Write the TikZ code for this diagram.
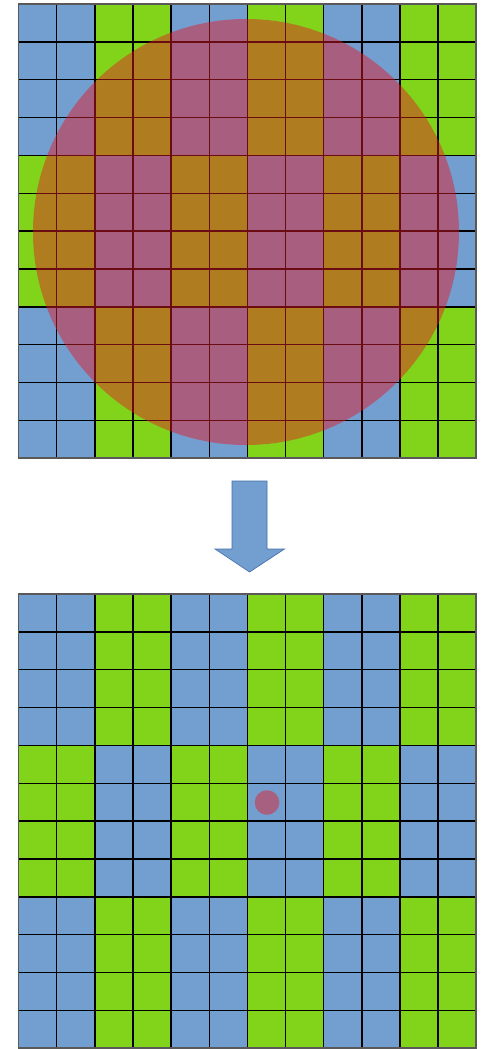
\documentclass[tikz,border=0pt]{standalone}
\usetikzlibrary{shapes.arrows}
\definecolor{cellblue}{RGB}{114,159,207}
\definecolor{cellgreen}{RGB}{129,212,26}
\definecolor{spot}{RGB}{229,25,39}
\definecolor{dotcol}{RGB}{168,96,128}
\definecolor{arrowedge}{RGB}{70,110,170}
\tikzset{
  gridline/.style={black, line width=1.1pt},
  frame/.style={draw=black!65, line width=1.3pt},
  bluecell/.style={fill=cellblue},
  greencell/.style={fill=cellgreen},
  overlay disc/.style={fill=spot, fill opacity=0.47},
  marker/.style={fill=dotcol},
  flowarrow/.style={fill=cellblue, draw=arrowedge, line width=0.5pt, line join=miter}
}
% one 12x12 board with its 2x4 checker pattern, upper-left corner at (#1,#2)
\newcommand{\drawboard}[2]{%
  \foreach \i in {0,...,11}{
    \foreach \j in {0,...,11}{
      \pgfmathtruncatemacro{\c}{mod(floor(\i/2)+floor(\j/4),2)}
      \ifnum\c=0
        \fill[bluecell] ({#1+\i*38.15},{#2+\j*37.85}) rectangle ++(38.15,37.85);
      \else
        \fill[greencell] ({#1+\i*38.15},{#2+\j*37.85}) rectangle ++(38.15,37.85);
      \fi
    }
  }
  \foreach \i in {1,...,11}{
    \draw[gridline] ({#1+\i*38.15},#2) -- ++(0,454.2);
    \draw[gridline] (#1,{#2+\i*37.85}) -- ++(457.8,0);
  }
  \draw[frame] (#1,#2) rectangle ++(457.8,454.2);
}
\begin{document}
\begin{tikzpicture}[x=0.75pt,y=-0.75pt]
  \useasboundingbox (0,0) rectangle (485,1049);
  % upper board with the translucent disc on top
  \drawboard{18.5}{4}
  \node[circle, overlay disc, minimum size=426*0.75pt, inner sep=0pt] (disc) at (246,232) {};
  % downward arrow between the boards
  \coordinate (atop) at (249.5,481);
  \coordinate (abot) at (249.5,572);
  \draw[flowarrow] (232,481) -- (267,481) -- (267,549) -- (284.5,549) -- (abot)
     -- (215,549) -- (232,549) -- cycle;
  % lower board with a single small disc
  \drawboard{18.5}{594}
  \node[circle, marker, minimum size=24.6*0.75pt, inner sep=0pt] (dot) at (267,802.5) {};
\end{tikzpicture}
\end{document}
